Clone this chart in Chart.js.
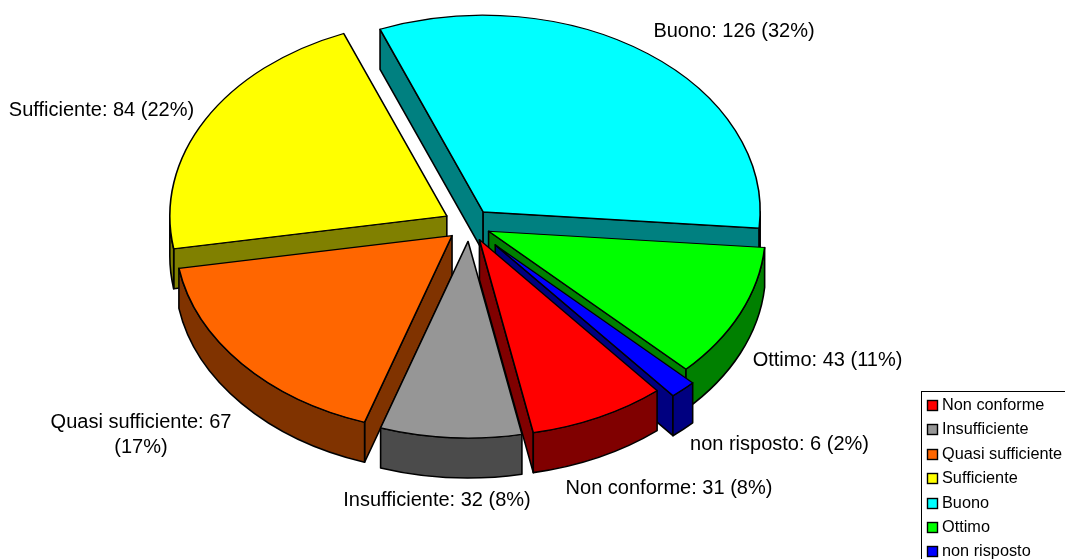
<!DOCTYPE html>
<html><head><meta charset="utf-8">
<style>html,body{margin:0;padding:0;background:#fff}canvas{display:block}</style>
<script src="https://cdn.jsdelivr.net/npm/chart.js@4/dist/chart.umd.min.js"></script>
</head><body><canvas id="c" width="1065" height="559"></canvas>
<script>
const categories = ["Non conforme","Insufficiente","Quasi sufficiente","Sufficiente","Buono","Ottimo","non risposto"];
const values = [31,32,67,84,126,43,6];
const topColors = ["#FF0000","#969696","#FF6600","#FFFF00","#00FFFF","#00FF00","#0000FF"];
const wallColors = ["#800000","#4B4B4B","#803300","#808000","#008080","#008000","#000080"];
const explode = [23,23,23,26,23,21,38];
const wallOrder = [4,3,5,6,2,0,1];
const labelLines = [
  ["Non conforme: 31 (8%)"],["Insufficiente: 32 (8%)"],["Quasi sufficiente: 67","(17%)"],
  ["Sufficiente: 84 (22%)"],["Buono: 126 (32%)"],["Ottimo: 43 (11%)"],["non risposto: 6 (2%)"]];
const labelAnchors = [[669,488],[437,500],[141,422],[101.5,110],[734,31],[827.5,360],[779.5,444]];

const TILT = 0.71, DEPTH = 40, LINE = 1.6, FONT = '"Liberation Sans", Arial, sans-serif';
const TAU = Math.PI*2;

function tilt(ctx, cy){ ctx.translate(0,cy); ctx.scale(1,TILT); ctx.translate(0,-cy); }

const pie3d = {
  id:'pie3d',
  afterDatasetsUpdate(chart){
    chart.getDatasetMeta(0).data.forEach((el,i)=>{
      const mid=(el.startAngle+el.endAngle)/2;
      el.x += Math.cos(mid)*explode[i];
      el.y += Math.sin(mid)*explode[i];
    });
  },
  beforeDatasetsDraw(chart){
    const ctx=chart.ctx, a=chart.chartArea, cy=(a.top+a.bottom)/2, D=DEPTH/TILT;
    const arcs=chart.getDatasetMeta(0).data;
    const paint=(i,build)=>{
      ctx.save(); tilt(ctx,cy); ctx.beginPath(); build(); ctx.restore();
      ctx.fillStyle=wallColors[i]; ctx.fill();
      ctx.strokeStyle='#000'; ctx.lineWidth=LINE; ctx.lineJoin='round'; ctx.stroke();
    };
    ctx.save();
    wallOrder.forEach(i=>{
      const el=arcs[i], s=el.startAngle, e=el.endAngle, r=el.outerRadius, x=el.x, y=el.y;
      const radial=t=>paint(i,()=>{
        ctx.moveTo(x,y); ctx.lineTo(x+Math.cos(t)*r,y+Math.sin(t)*r);
        ctx.lineTo(x+Math.cos(t)*r,y+Math.sin(t)*r+D); ctx.lineTo(x,y+D); ctx.closePath();
      });
      if(Math.cos(s)<0) radial(s);
      if(Math.cos(e)>0) radial(e);
      [0,TAU,-TAU].forEach(base=>{
        const p=Math.max(s,base), q=Math.min(e,base+Math.PI);
        if(q>p) paint(i,()=>{
          ctx.arc(x,y,r,p,q,false); ctx.arc(x,y+D,r,q,p,true); ctx.closePath();
        });
      });
    });
    ctx.restore();
    ctx.save(); tilt(ctx,cy);
  },
  afterDatasetsDraw(chart){ chart.ctx.restore(); },
  afterDraw(chart){
    const ctx=chart.ctx;
    ctx.save();
    ctx.fillStyle='#000'; ctx.textAlign='center'; ctx.textBaseline='middle';
    ctx.font='20px '+FONT;
    labelLines.forEach((lines,i)=>lines.forEach((t,j)=>
      ctx.fillText(t,labelAnchors[i][0],labelAnchors[i][1]+j*25)));
    // legend
    ctx.strokeStyle='#000'; ctx.lineWidth=1;
    ctx.strokeRect(921.5,391.5,160,200);
    ctx.textAlign='left'; ctx.font='16.3px '+FONT;
    categories.forEach((t,i)=>{
      const yc=405+i*24.4;
      ctx.fillStyle=topColors[i]; ctx.fillRect(927.5,Math.round(yc-5)+.5,10,10);
      ctx.strokeStyle='#000'; ctx.lineWidth=1.4; ctx.strokeRect(927.5,Math.round(yc-5)+.5,10,10);
      ctx.fillStyle='#000'; ctx.fillText(t,942,yc+.5);
    });
    ctx.restore();
  }
};

new Chart(document.getElementById('c'),{
  type:'pie',
  data:{labels:categories,datasets:[{data:values,backgroundColor:topColors,borderColor:'#000',borderWidth:LINE,borderJoinStyle:'round',clip:false}]},
  options:{
    responsive:false,animation:false,events:[],
    radius:277,rotation:140.1,
    layout:{padding:{right:126,bottom:109}},
    plugins:{legend:{display:false},tooltip:{enabled:false}}
  },
  plugins:[pie3d]
});
</script></body></html>
